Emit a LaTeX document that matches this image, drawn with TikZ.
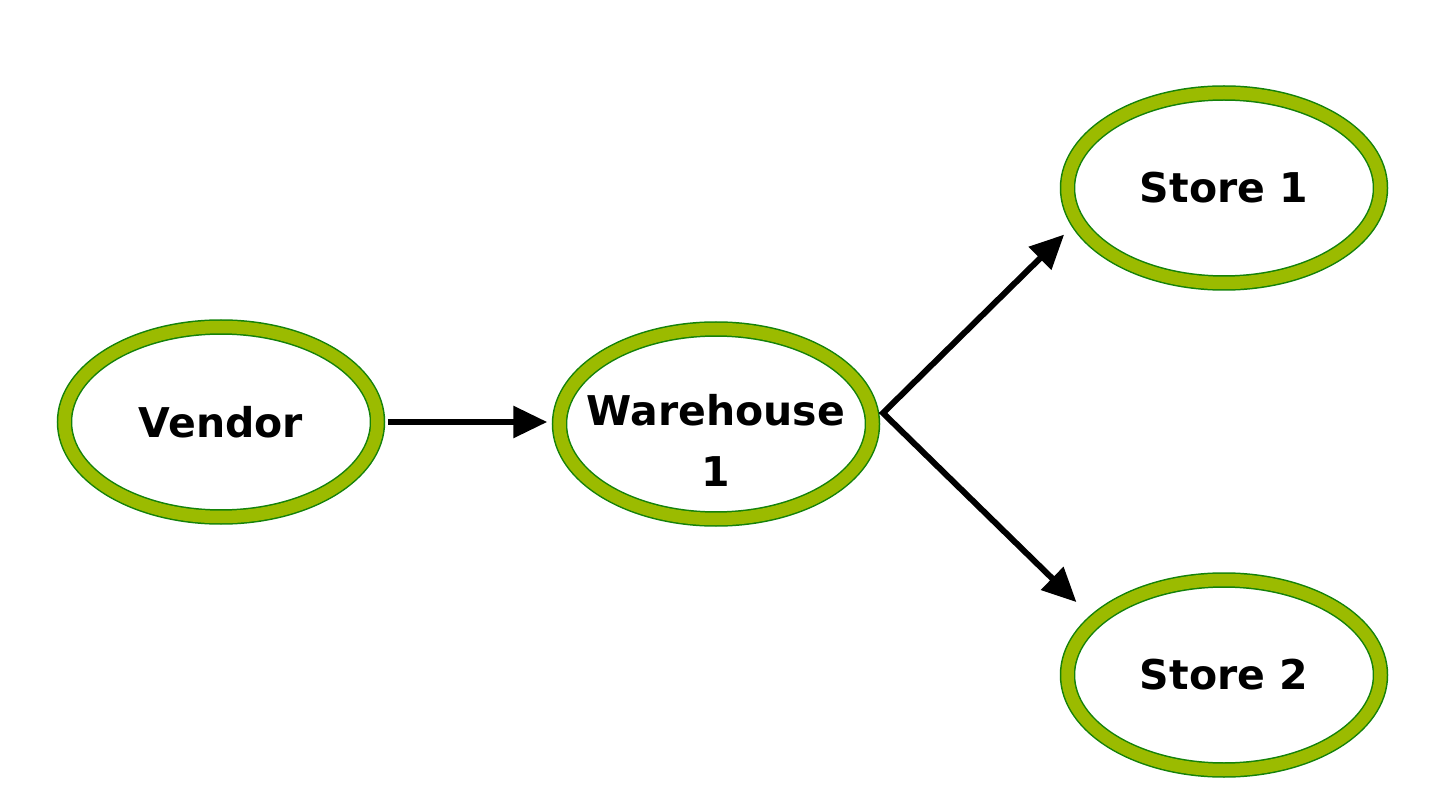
\documentclass[tikz,border=0pt]{standalone}
\usepackage{fontspec}
\setmainfont{DejaVu Sans}
\usepackage{tikz}
\usetikzlibrary{shapes,arrows,positioning,calc,arrows.meta}

\definecolor{ringgreen}{RGB}{155,187,0}
\definecolor{edgegreen}{RGB}{20,130,10}

\begin{document}
\begin{tikzpicture}[x=1pt,y=-1pt,
    site/.style={ellipse,draw=edgegreen,line width=1.5pt,double=ringgreen,
        double distance=12.5pt,fill=white,minimum width=313pt,minimum height=190pt,
        inner xsep=-40pt,inner ysep=0pt,
        font=\fontsize{41}{61}\selectfont\bfseries},
    flow/.style={line width=6pt,miter limit=10,
        {Triangle[length=34pt,width=31pt]}-{Triangle[length=34pt,width=31pt]}}]
    \useasboundingbox (0,0) rectangle (1444,794);

    \node[site] (vendor) at (221,422) {Vendor};
    \node[site] (wh) at (716,424)
        {\raisebox{-26pt}[0pt][0pt]{\begin{tabular}{@{}c@{}}Warehouse\\1\end{tabular}}};
    \foreach \i/\y in {1/188, 2/675} {
        \node[site] (st\i) at (1224,\y) {Store \i};
    }

    \coordinate (fork) at (883,413);
    \draw[line width=6pt,-{Triangle[length=34pt,width=31pt]},shorten <=9.5pt,shorten >=11.5pt]
        (vendor.east) -- (vendor.east -| wh.west);
    \draw[flow,shorten <=18pt,shorten >=26pt] (st1.193) -- (fork) -- (st2.157);
\end{tikzpicture}
\end{document}
